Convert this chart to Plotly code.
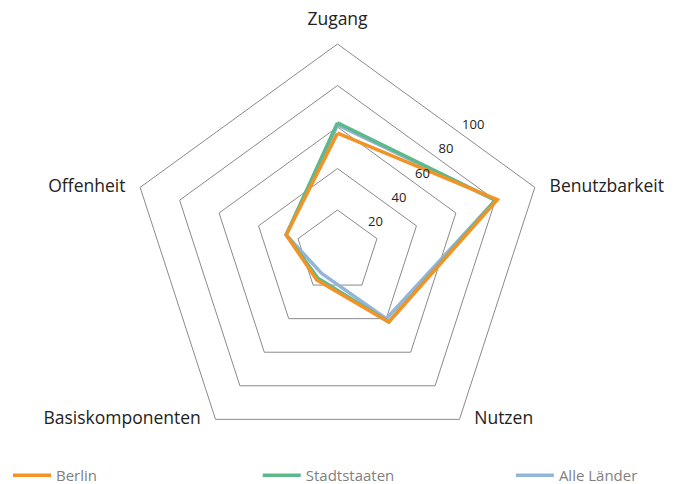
import plotly.graph_objects as go

# Data

categories = ["Zugang", "Benutzbarkeit", "Nutzen", "Basiskomponenten", "Offenheit"]

berlin = [57, 81, 42, 17, 26]
stadtstaaten = [62, 80, 42, 16, 26]
alle_laender = [61, 80, 40, 13, 26]

ticks = [20, 40, 60, 80, 100]

# Close the polygons

def closed(values):
    return values + values[:1]

theta = closed(categories)

fig = go.Figure()

# drawn back to front; each series gets its own legend box along the bottom
fig.add_trace(go.Scatterpolar(r=closed(alle_laender), theta=theta, mode="lines", legend="legend3",
                              name="Alle Länder", line=dict(color="#93B5D9", width=3.5)))
fig.add_trace(go.Scatterpolar(r=closed(stadtstaaten), theta=theta, mode="lines", legend="legend2",
                              name="Stadtstaaten", line=dict(color="#5DB88C", width=3.5)))
fig.add_trace(go.Scatterpolar(r=closed(berlin), theta=theta, mode="lines", legend="legend",
                              name="Berlin", line=dict(color="#F39325", width=3.5)))

# category names sit beside the outer corners (like the original), not pushed out radially
fig.add_trace(go.Scatterpolar(
    r=[ticks[-1]] * len(categories), theta=categories, text=categories,
    mode="markers+text", cliponaxis=False, showlegend=False, hoverinfo="skip",
    marker=dict(size=22, color="rgba(0,0,0,0)"),
    textposition=["top center", "middle right", "middle right", "middle left", "middle left"],
    textfont=dict(size=17.5, color="#222222"),
))

# second, see-through polar only for the value labels (linear grids snap the radial axis to a vertex)
fig.add_trace(go.Scatterpolar(r=[], theta=[], subplot="polar2", showlegend=False, hoverinfo="skip"))

leg = dict(orientation="h", xref="container", yref="container", xanchor="left",
           y=0.0, yanchor="bottom", itemwidth=38, font=dict(size=15, color="#7f7f7f"))

fig.update_layout(
    width=675, height=484,
    margin=dict(l=0, r=16, t=36, b=28),
    paper_bgcolor="white",
    showlegend=True,
    font=dict(family="Open Sans, Noto Sans, sans-serif", color="#222222"),
    polar=dict(
        domain=dict(x=[0, 1], y=[0, 1]),
        bgcolor="white",
        gridshape="linear",
        angularaxis=dict(
            direction="clockwise", rotation=90, showticklabels=False,
            showgrid=False, showline=True, linecolor="#8a8a8a", linewidth=1, ticks="",
        ),
        radialaxis=dict(
            range=[0, 100], tickvals=ticks, showticklabels=False,
            showline=False, ticks="", showgrid=True, gridcolor="#8a8a8a", gridwidth=1,
        ),
    ),
    polar2=dict(
        domain=dict(x=[0, 0.97], y=[0, 1]),
        bgcolor="rgba(0,0,0,0)",
        angularaxis=dict(visible=False),
        radialaxis=dict(
            range=[-10, 112.5], tickvals=ticks, angle=46, tickangle=46, side="clockwise",
            showline=False, showgrid=False, ticks="",
            tickfont=dict(size=13, color="#222222"),
        ),
    ),
    legend=dict(leg, x=0.0),
    legend2=dict(leg, x=0.37),
    legend3=dict(leg, x=0.745),
)

fig.write_html("out.html")
